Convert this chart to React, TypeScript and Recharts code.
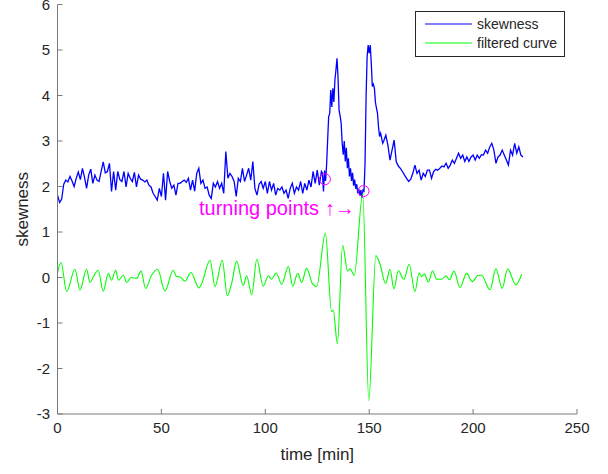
import React from 'react';
import { LineChart, Line, XAxis, YAxis, ReferenceDot, Legend } from 'recharts';

const FONT = '"Liberation Sans", Arial, Helvetica, sans-serif';
const INK = '#262626';
const AXIS = '#7a7a7a';
const BLUE = '#0000ff';
const GREEN = '#00ff00';
const MAGENTA = '#ff00ff';

// Skewness before the event: one sample per minute, starting at t = 0
const skewBaselineStart = 0;
const skewBaselineStep = 1;
const skewBaseline = [
  1.81, 1.65, 1.72, 2.05, 2.14, 2.10, 2.22, 2.12, 2.00, 2.18,
  2.32, 2.15, 2.40, 2.20, 1.96, 2.25, 2.38, 2.07, 2.25, 2.14,
  2.11, 2.33, 2.54, 2.30, 2.33, 2.51, 1.89, 2.33, 1.92, 2.33,
  2.15, 2.11, 2.33, 1.99, 2.29, 2.18, 2.11, 2.31, 1.99, 2.25,
  2.16, 2.14, 2.10, 2.14, 2.03, 1.99, 1.85, 1.78, 1.70, 1.96,
  1.78, 2.29, 1.70, 2.33, 2.11, 1.96, 2.03, 1.81, 2.07, 2.07,
  2.11, 2.14, 2.09, 2.18, 1.92, 2.14, 1.90, 2.29, 2.40, 2.07,
  2.14, 1.96, 1.99, 1.81, 1.74, 2.07, 1.99, 2.11, 1.96, 2.07,
  1.85, 2.77, 2.18, 2.29, 2.22, 2.11, 1.78, 2.18, 2.11, 2.40,
  2.11, 2.25, 2.40, 2.14, 2.55, 1.96, 1.81, 2.05, 2.11, 1.96,
  2.11, 1.85, 2.11, 1.92, 2.07, 1.81, 1.96, 1.92, 1.99, 1.85,
  1.92, 1.74, 1.96, 2.07, 1.85, 1.99, 1.92, 2.11, 1.85, 2.07,
  1.92, 2.14, 1.99, 2.33, 2.07, 2.36, 2.03, 2.33,
];

// Skewness around the two peaks: one sample every half minute
const skewEventStart = 127.5;
const skewEventStep = 0.5;
const skewEvent = [
  2.29, 1.89, 2.35, 2.12, 2.48, 3.02, 3.54, 3.60, 4.12, 3.75,
  4.16, 3.86, 4.34, 4.56, 4.82, 4.40, 3.68, 3.55, 3.40, 2.95,
  2.70, 3.00, 2.55, 2.85, 2.40, 2.62, 2.22, 2.40, 2.12, 2.30,
  2.02, 2.15, 1.95, 2.05, 1.85, 1.95, 1.80, 1.92, 1.75, 1.92,
  1.90, 2.50, 3.97, 4.85, 5.11, 4.93, 5.11, 4.71, 4.20, 4.25,
  4.16, 3.85, 3.72, 3.61, 3.30, 3.10, 3.17, 3.06, 2.95, 3.00,
];

// Skewness during the recovery: one sample per minute again
const skewRecoveryStart = 158;
const skewRecoveryStep = 1;
const skewRecovery = [
  3.13, 2.91, 2.58, 2.80, 3.02, 2.55, 2.45, 2.40, 2.33, 2.25,
  2.18, 2.11, 2.16, 2.29, 2.47, 2.29, 2.36, 2.14, 2.29, 2.22,
  2.36, 2.36, 2.18, 2.33, 2.38, 2.36, 2.40, 2.45, 2.43, 2.51,
  2.40, 2.47, 2.58, 2.51, 2.62, 2.73, 2.62, 2.69, 2.55, 2.65,
  2.55, 2.65, 2.69, 2.58, 2.69, 2.62, 2.70, 2.69, 2.80, 2.73,
  2.87, 2.95, 2.80, 2.51, 2.65, 2.69, 2.80, 2.69, 2.58, 2.47,
  2.80, 2.69, 2.95, 2.73, 2.87, 2.69, 2.65,
];

// Band-pass filtered skewness, given at its turning points (minutes, value)
const filterTimes = [
  0, 1.7, 4.4, 8.4, 10.8, 14.0, 15.6, 17.2, 19.6, 22.0,
  24.5, 26.0, 28.0, 29.3, 31.7, 33.3, 35.4, 38.1, 40.2, 42.4,
  45.3, 48.2, 51.7, 55.7, 57.3, 59.0, 61.4, 64.2, 68.1, 69.4,
  73.4, 75.8, 79.3, 81.7, 83.8, 86.2, 89.4, 91.0, 93.5, 95.9,
  99.0, 101.5, 103.0, 105.2, 107.9, 111.1, 113.2, 115.6, 117.5, 119.9,
  122.6, 124.7, 128.9, 131.9, 132.7, 134.7, 137.2, 139.6, 140.8, 142.8,
  146.9, 149.8, 153.2, 155.2, 157.9, 160.0, 161.9, 164.0, 166.7, 169.2,
  172.0, 174.0, 175.3, 176.5, 178.5, 180.5, 182.5, 184.9, 187.0, 188.6,
  190.8, 193.7, 196.9, 199.6, 202.5, 204.1, 208.1, 211.0, 214.0, 216.6,
  220.6, 223.4,
];
const filterValues = [
  0.10, 0.33, -0.31, 0.18, -0.28, 0.18, -0.11, 0.01, 0.16, -0.30,
  0.09, -0.06, 0.16, -0.06, 0.05, -0.11, 0.00, -0.02, 0.14, -0.24,
  0.05, 0.18, -0.30, 0.16, 0.02, 0.01, -0.08, 0.11, -0.23, -0.13,
  0.38, -0.20, 0.38, -0.40, -0.13, 0.36, -0.18, 0.04, -0.38, 0.40,
  -0.19, 0.04, -0.04, 0.10, -0.15, 0.24, -0.19, 0.09, -0.11, 0.20,
  -0.13, -0.20, 0.97, -0.75, -0.72, -1.46, 0.71, 0.14, 0.19, 0.05,
  1.85, -2.71, 0.48, 0.29, -0.13, 0.18, -0.25, 0.15, -0.04, 0.29,
  -0.31, 0.10, 0.02, 0.08, -0.10, 0.15, -0.04, -0.04, 0.04, -0.05,
  0.14, -0.22, 0.09, -0.09, 0.05, 0.05, -0.27, 0.19, -0.24, 0.19,
  -0.16, 0.07,
];

// Detected turning points on the skewness curve
const turningTimes = [128.7, 147.3];
const turningValues = [2.16, 1.9];
const turningLabel = 'turning points ↑→';
const turningLabelAt = { t: 68.1, v: 1.52 };

const seriesNames = ['skewness', 'filtered curve'];
const xTicks = [0, 50, 100, 150, 200, 250];
const yTicks = [-3, -2, -1, 0, 1, 2, 3, 4, 5, 6];

const sampled = (start: number, step: number, values: number[]) =>
  values.map((v, i) => ({ t: start + i * step, v }));

const skewData = [
  ...sampled(skewBaselineStart, skewBaselineStep, skewBaseline),
  ...sampled(skewEventStart, skewEventStep, skewEvent),
  ...sampled(skewRecoveryStart, skewRecoveryStep, skewRecovery),
];
const filterData = filterTimes.map((t, i) => ({ t, v: filterValues[i] }));

const tickStyle = { fill: INK, fontSize: 15, fontFamily: FONT };

const LegendBox = (props: any) => {
  const payload = [...(props.payload || [])].sort(
    (a: any, b: any) => seriesNames.indexOf(a.value) - seriesNames.indexOf(b.value)
  );
  return (
    <div
      style={{
        position: 'relative',
        width: 150,
        height: 46,
        border: `1px solid ${INK}`,
        boxSizing: 'border-box',
        background: '#fff',
        fontFamily: FONT,
        fontSize: 14,
        color: INK,
      }}
    >
      {payload.map((p: any, i: number) => (
        <div
          key={p.value}
          style={{
            position: 'absolute',
            left: 9,
            top: 3 + i * 19.3,
            height: 18,
            display: 'flex',
            alignItems: 'center',
            whiteSpace: 'nowrap',
          }}
        >
          <svg width={47} height={18} style={{ display: 'block' }}>
            <line x1={0} x2={47} y1={9} y2={9} stroke={p.color} strokeWidth={1} />
          </svg>
          <span style={{ marginLeft: 5, lineHeight: '18px' }}>{p.value}</span>
        </div>
      ))}
    </div>
  );
};

export default function App() {
  return (
    <div style={{ position: 'absolute', left: 0, top: 0, width: 608, height: 474, background: '#fff' }}>
      <LineChart width={608} height={474} margin={{ top: 4.5, right: 31, bottom: 0, left: 0 }}>
        <XAxis
          type="number"
          dataKey="t"
          domain={[0, 250]}
          ticks={xTicks}
          interval={0}
          allowDataOverflow
          height={60}
          tickSize={-5}
          tickMargin={13}
          axisLine={{ stroke: AXIS, strokeWidth: 1 }}
          tickLine={{ stroke: AXIS, strokeWidth: 1 }}
          tick={tickStyle}
          label={(p: any) => {
            const vb = p.viewBox;
            return (
              <text
                x={vb.x + vb.width / 2}
                y={vb.y + 46}
                textAnchor="middle"
                fill={INK}
                fontSize={17}
                fontFamily={FONT}
              >
                time [min]
              </text>
            );
          }}
        />
        <YAxis
          type="number"
          domain={[-3, 6]}
          ticks={yTicks}
          interval={0}
          allowDataOverflow
          width={57.5}
          tickSize={-5}
          tickMargin={12.5}
          axisLine={{ stroke: AXIS, strokeWidth: 1 }}
          tickLine={{ stroke: AXIS, strokeWidth: 1 }}
          tick={tickStyle}
          label={(p: any) => {
            const vb = p.viewBox;
            const cx = vb.x + 28;
            const cy = vb.y + vb.height / 2;
            return (
              <text
                x={cx}
                y={cy}
                textAnchor="middle"
                transform={`rotate(-90 ${cx} ${cy})`}
                fill={INK}
                fontSize={17}
                fontFamily={FONT}
              >
                skewness
              </text>
            );
          }}
        />
        <Line
          data={skewData}
          dataKey="v"
          name={seriesNames[0]}
          type="linear"
          stroke={BLUE}
          strokeWidth={1.3}
          dot={false}
          activeDot={false}
          isAnimationActive={false}
        />
        <Line
          data={filterData}
          dataKey="v"
          name={seriesNames[1]}
          type="monotone"
          stroke={GREEN}
          strokeWidth={1.1}
          dot={false}
          activeDot={false}
          isAnimationActive={false}
        />
        {turningTimes.map((t, i) => (
          <ReferenceDot
            key={t}
            x={t}
            y={turningValues[i]}
            r={5.5}
            fill="none"
            stroke={MAGENTA}
            strokeWidth={1}
          />
        ))}
        <ReferenceDot
          x={turningLabelAt.t}
          y={turningLabelAt.v}
          r={0}
          fill="none"
          stroke="none"
          label={(p: any) => {
            const vb = p.viewBox;
            return (
              <text
                x={vb.x + vb.width}
                y={vb.y + vb.height / 2}
                dy="0.35em"
                fill={MAGENTA}
                fontSize={20}
                fontFamily={FONT}
              >
                {turningLabel}
              </text>
            );
          }}
        />
        <Legend
          layout="vertical"
          align="center"
          verticalAlign="middle"
          itemSorter={(item: any) => seriesNames.indexOf(item.value)}
          content={<LegendBox />}
          wrapperStyle={{ left: 415, top: 11, width: 150, height: 46 }}
        />
      </LineChart>
    </div>
  );
}
